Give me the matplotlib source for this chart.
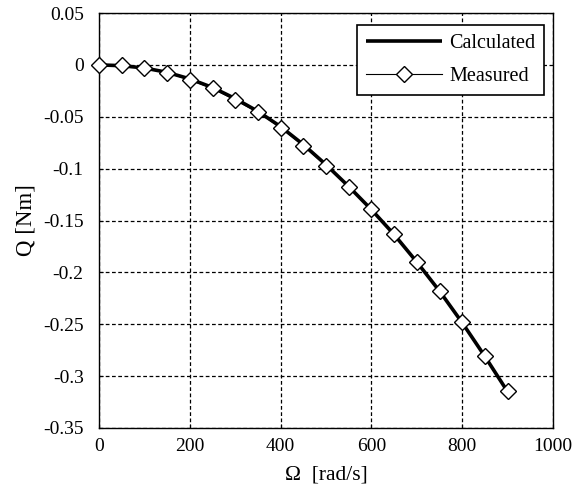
import matplotlib
matplotlib.use("Agg")
import matplotlib.pyplot as plt
import numpy as np

omega = [0, 50, 100, 150, 200, 250, 300, 350, 400, 450, 500, 550, 600, 650, 700, 750, 800, 850, 900]
q_measured = [0.0, 0.0, -0.003, -0.0075, -0.0146, -0.0226, -0.034, -0.0457, -0.0605, -0.0778,
              -0.0971, -0.1174, -0.139, -0.163, -0.190, -0.218, -0.248, -0.281, -0.314]
q_calculated = [0.0, -0.0008, -0.003, -0.0072, -0.0135, -0.0218, -0.0325, -0.0448, -0.0595, -0.0768,
                -0.0962, -0.1172, -0.1395, -0.1635, -0.1900, -0.2180, -0.2485, -0.2810, -0.3150]

plt.rcParams['font.family'] = ['Liberation Serif', 'DejaVu Serif']
plt.rcParams['mathtext.fontset'] = 'stix'
plt.rcParams['axes.unicode_minus'] = False

fig = plt.figure(figsize=(5.8, 4.87), dpi=100)
ax = fig.add_axes([99/580, 1 - 428/487, (553-99)/580, (428-13)/487])

ax.plot(omega, q_calculated, color='black', lw=2.6, label='Calculated', zorder=3,
        solid_capstyle='butt')
ax.plot(omega, q_measured, color='black', lw=0.8, marker='D', markersize=8.5,
        markerfacecolor='white', markeredgecolor='black', markeredgewidth=1.0,
        label='Measured', zorder=4, clip_on=False)

ax.set_xlim(0, 1000)
ax.set_ylim(-0.35, 0.05)
ax.set_xticks([0, 200, 400, 600, 800, 1000])
ax.set_yticks([0.05, 0, -0.05, -0.1, -0.15, -0.2, -0.25, -0.3, -0.35])
ax.set_yticklabels(['0.05', '0', '-0.05', '-0.1', '-0.15', '-0.2', '-0.25', '-0.3', '-0.35'])
ax.grid(True, color='black', linestyle=(0, (3, 2)), lw=0.9)
ax.tick_params(direction='in', length=3, labelsize=14)
ax.tick_params(axis='y', pad=11)
ax.tick_params(axis='x', pad=7)
for s in ax.spines.values():
    s.set_color('black')
    s.set_linewidth(1.0)

ax.set_xlabel('Ω  [rad/s]', fontsize=15.5, labelpad=8)
ax.set_ylabel('Q [Nm]', fontsize=16.5, labelpad=5)

leg = ax.legend(loc='upper right', bbox_to_anchor=(0.980, 0.971), borderaxespad=0,
                fontsize=14.5, frameon=True, fancybox=False, edgecolor='black', framealpha=1,
                handlelength=3.8, borderpad=0.42, labelspacing=0.72, handletextpad=0.35)
leg.get_frame().set_linewidth(1.2)

fig.savefig('out.png', dpi=100)
